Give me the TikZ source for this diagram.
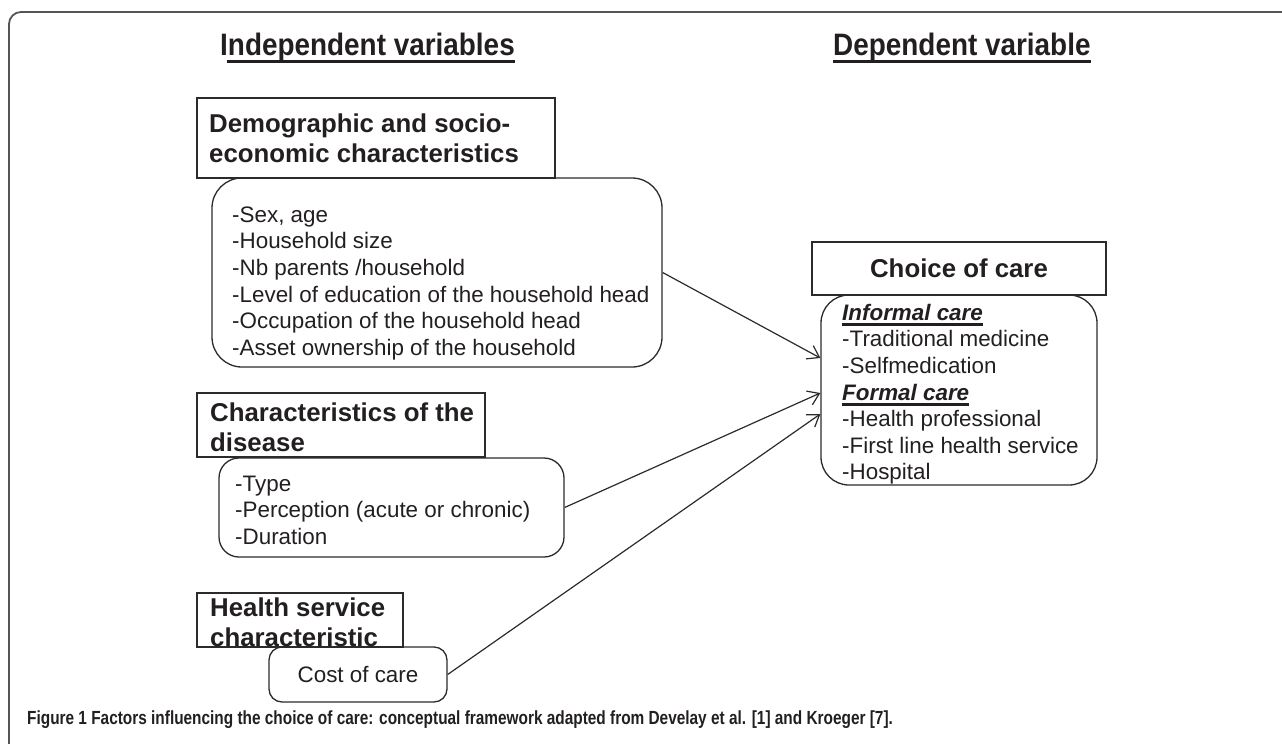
\documentclass[tikz,border=0pt]{standalone}
\usepackage{fontspec}
\setmainfont{Liberation Sans}
\newfontfamily\headfont[FakeStretch=0.9]{Liberation Sans}
\newfontfamily\capfont[FakeStretch=0.81]{Liberation Sans}
\usetikzlibrary{arrows.meta,calc}
\definecolor{ink}{HTML}{231F20}
\definecolor{edge}{HTML}{2B2B2B}
\newcommand\thickul[1]{\setbox0\hbox{#1}\leavevmode\rlap{\rule[-5.6pt]{\wd0}{2.4pt}}\box0}
\begin{document}
\begin{tikzpicture}[x=1pt,y=-1pt,
  headbox/.style={draw=edge, line width=1.3pt, rectangle, inner sep=0pt},
  roundbox/.style={draw=edge, line width=1.3pt, rectangle, inner sep=0pt},
  txt/.style={anchor=north west, inner sep=0pt, align=left, text=ink, font=\fontsize{22.4}{26.6}\selectfont},
  btxt/.style={anchor=north west, inner sep=0pt, align=left, text=ink, font=\fontsize{25.8}{30}\selectfont\bfseries},
  title/.style={anchor=base west, inner sep=0pt, text=ink, font=\headfont\fontsize{31}{36}\selectfont\bfseries},
  link/.style={draw=edge, line width=1.2pt, -{Straight Barb[length=11pt,width=15pt,line width=1.2pt]}}
]
\useasboundingbox (0,0) rectangle (1282,744);
\clip (0,0) rectangle (1282,744);
% outer frame
\draw[draw=edge!80, line width=1.8pt, rounded corners=12pt] (9,800) -- (9,12) -- (1400,12);

% headings
\node[title] (indHead) at (220,55) {Independent variables};
\node[title] (depHead) at (833,55) {Dependent variable};
\draw[ink, line width=3pt] ($(indHead.base west)+(7,6)$) -- ($(indHead.base east)+(0,6)$);
\draw[ink, line width=3pt] ($(depHead.base west)+(0,6)$) -- ($(depHead.base east)+(0,6)$);

% left column boxes
\node[headbox, minimum width=358pt, minimum height=80pt] (demoHead) at (376,138) {};
\node[btxt] (demoHeadText) at (209,111) {\strut Demographic and socio-\\economic characteristics};
\node[roundbox, rounded corners=30pt, minimum width=450pt, minimum height=189pt] (demoBox) at (437,272.5) {};
\node[txt] (demoText) at (232,203.4) {\strut-Sex, age\\-Household size\\-Nb parents /household\\-Level of education of the household head\\-Occupation of the household head\\-Asset ownership of the household};

\node[headbox, minimum width=288pt, minimum height=64pt] (disHead) at (341,425) {};
\node[btxt] (disHeadText) at (210,400) {\strut Characteristics of the\\disease};
\node[roundbox, rounded corners=20pt, minimum width=345pt, minimum height=99pt] (disBox) at (391.5,507.5) {};
\node[txt] (disText) at (235,472.4) {\strut-Type\\-Perception (acute or chronic)\\-Duration};

\node[headbox, minimum width=206pt, minimum height=54pt] (hsHead) at (300,620) {};
\node[btxt] (hsHeadText) at (210,595) {\strut Health service\\characteristic};
\node[roundbox, rounded corners=13pt, minimum width=178pt, minimum height=55pt,
  text=ink, font=\fontsize{22.4}{26.6}\selectfont] (costBox) at (358,674.5) {Cost of care};

% right column
\node[headbox, minimum width=294pt, minimum height=53pt, text=ink,
  font=\fontsize{25.8}{30}\selectfont\bfseries] (choiceHead) at (959,268.5) {Choice of care};
\node[roundbox, rounded corners=28pt, minimum width=276pt, minimum height=190pt] (careBox) at (959,390) {};
\node[txt] (careText) at (842,301.4) {\strut\thickul{\textbf{\textit{Informal care}}}\\-Traditional medicine\\-Selfmedication\\\thickul{\textbf{\textit{Formal care}}}\\-Health professional\\-First line health service\\-Hospital};

% connectors
\draw[link] (demoBox.east) -- ($(careBox.west)+(0,-32)$);
\draw[link] (disBox.east) -- ($(careBox.west)+(0,3)$);
\draw[link] (costBox.east) -- ($(careBox.west)+(0,24)$);

% caption
\node[anchor=base west, inner sep=0pt, text=ink, font=\capfont\fontsize{19}{23}\selectfont\bfseries] (caption) at (27,724)
  {Figure 1 Factors influencing the choice of care: conceptual framework adapted from Develay et al. [1] and Kroeger [7].};
\end{tikzpicture}
\end{document}
